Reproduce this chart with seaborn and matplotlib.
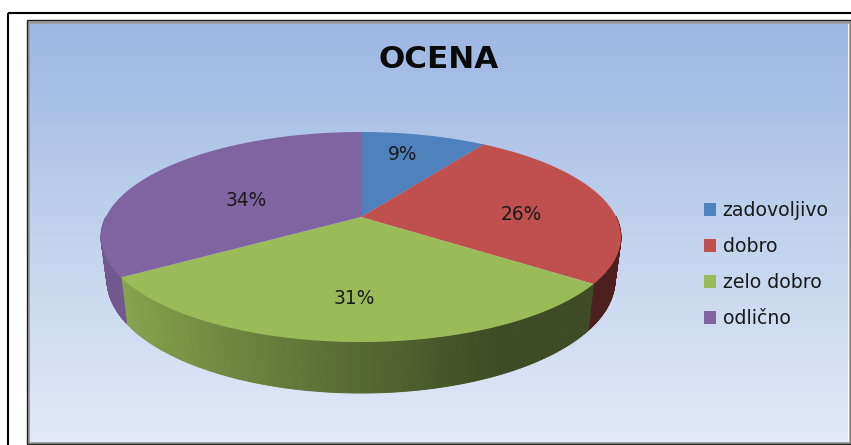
import numpy as np
import matplotlib
matplotlib.use("Agg")
import matplotlib.pyplot as plt
from matplotlib.colors import LinearSegmentedColormap, to_rgb
from matplotlib.patches import Rectangle
from matplotlib.path import Path
from matplotlib.transforms import Transform
import seaborn as sns

# ---- data ----
title = "OCENA"
categories = ["zadovoljivo", "dobro", "zelo dobro", "odlično"]
values = [9.4, 25.6, 31, 34]
colors = ["#4F81BD", "#C0504D", "#9BBB59", "#8064A2"]

sns.set_theme(style="white")
plt.rcParams["font.family"] = ["DejaVu Sans"]
palette = sns.color_palette(colors)

W, H = 851, 445
fig = plt.figure(figsize=(W / 100, H / 100), dpi=100, facecolor="white")
ax = fig.add_axes([0, 0, 1, 1])

# tilted-disc projection of the unit pie to the canvas
APEX = (361.0, 217.0)
K, A, C = 0.1905, 101.2, 255.2
TOP_ELLIPSE = (237.0, 260.0, 105.0)     # centre y, rx, ry of the top face
BOTTOM_ELLIPSE = (280.0, 254.0, 113.0)  # centre y, rx, ry of the lower rim


def project(u, v):
    w = 1 + K * v
    return APEX[0] + C * u / w, APEX[1] - A * v / w


class Tilt(Transform):
    input_dims = 2
    output_dims = 2
    is_separable = False
    has_inverse = False

    def transform_non_affine(self, values):
        values = np.asarray(values, dtype=float)
        x, y = project(values[:, 0], values[:, 1])
        return np.column_stack([x, y])

    def transform_path_non_affine(self, path):
        # sample the arcs finely so that the outline stays a true ellipse
        ts = np.linspace(0, 1, 40)
        pts = [seg(ts) for seg, _ in path.iter_bezier() if seg.degree > 0]
        return Path(self.transform_non_affine(np.vstack(pts)))


tilt = Tilt() + ax.transData

# the pie top face
wedges, _, autotexts = ax.pie(
    values,
    colors=palette,
    startangle=90,
    counterclock=False,
    radius=1,
    autopct="%.0f%%",
    wedgeprops={"transform": tilt, "zorder": 5, "linewidth": 0},
    textprops={"fontsize": 13.4, "color": "#1a1a1a", "zorder": 6},
)
label_xy = [(403, 154), (521, 215), (354, 299), (246, 200)]
for t, xy in zip(autotexts, label_xy):
    t.set_transform(ax.transData)
    t.set_position(xy)

ax.set_aspect("auto")
ax.set_axis_off()

# background gradient
bg = LinearSegmentedColormap.from_list(
    "bg", [(0, "#9BB7E3"), (0.55, "#C5D5EE"), (1, "#E3E9F6")]
)
ax.imshow(
    np.linspace(0, 1, 256)[:, None],
    extent=(29, 848, 443, 22),
    cmap=bg,
    aspect="auto",
    zorder=0,
)
ax.set_xlim(0, W)
ax.set_ylim(H, 0)

# the rim below the disc, shaded left to right
shade_u = [-1.0, -0.85, -0.24, 0.3, 0.45, 1.0]
shade_f = [0.88, 0.88, 0.65, 0.45, 0.40, 0.40]
edges = np.cumsum([0] + values) / sum(values) * 2 * np.pi
for val_start, val_end, col in zip(edges[:-1], edges[1:], colors):
    n = max(int((val_end - val_start) * 90), 2)
    th = np.linspace(val_start, val_end, n + 1)
    u, v = np.sin(th), np.cos(th)
    x_top, y_top = project(u, v)
    cos_p = (x_top - APEX[0]) / TOP_ELLIPSE[1]
    sin_p = (y_top - TOP_ELLIPSE[0]) / TOP_ELLIPSE[2]
    x_bot = APEX[0] + BOTTOM_ELLIPSE[1] * cos_p
    y_bot = BOTTOM_ELLIPSE[0] + BOTTOM_ELLIPSE[2] * sin_p
    base = np.array(to_rgb(col))
    for i in range(n):
        if v[i] > 0.0 and v[i + 1] > 0.0:
            continue
        f = np.interp((u[i] + u[i + 1]) / 2, shade_u, shade_f)
        ax.fill(
            [x_top[i], x_top[i + 1], x_bot[i + 1], x_bot[i]],
            [y_top[i], y_top[i + 1], y_bot[i + 1], y_bot[i]],
            color=base * f,
            lw=0.7,
            zorder=3,
        )

# frames
ax.add_patch(Rectangle((8, 13), 860, 460, fill=False, ec="black", lw=1.5,
                       joinstyle="miter", zorder=9))
ax.add_patch(Rectangle((28, 21.5), 821.5, 421, fill=False, ec="#9a9a9a", lw=2,
                       joinstyle="miter", zorder=8))
ax.add_patch(Rectangle((26.5, 20), 824, 424, fill=False, ec="#222222", lw=1,
                       joinstyle="miter", zorder=9))

ax.text(438.5, 59, title, ha="center", va="center", fontsize=22.3, fontweight="bold",
        color="#0a0a0a", zorder=7)

leg = ax.legend(
    wedges,
    categories,
    loc="upper left",
    bbox_to_anchor=(704 / W, 1 - 201 / H),
    frameon=False,
    fontsize=13.6,
    handlelength=0.64,
    handleheight=0.64,
    handletextpad=0.35,
    labelspacing=0.90,
    borderpad=0,
    borderaxespad=0,
    labelcolor="#1a1a1a",
)
leg.set_zorder(7)

fig.savefig("out.png", dpi=100)
